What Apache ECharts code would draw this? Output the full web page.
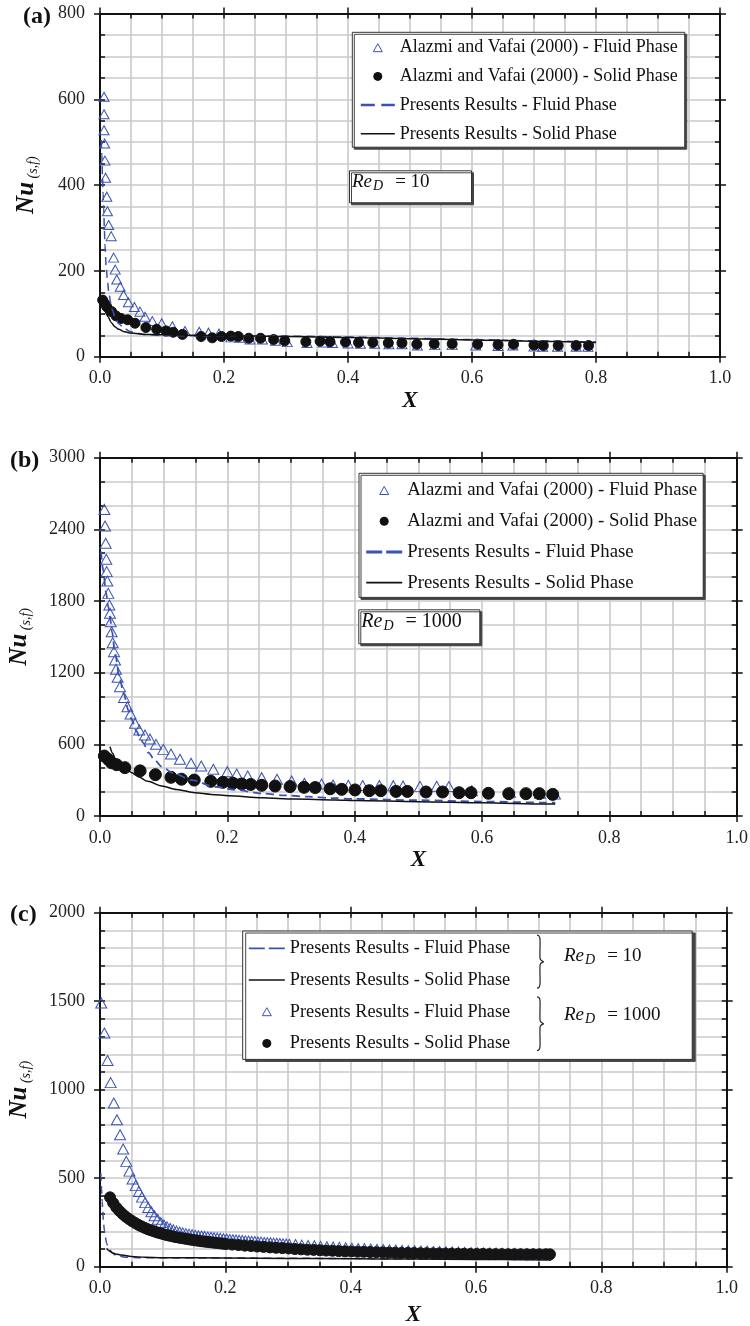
<!DOCTYPE html>
<html><head><meta charset="utf-8">
<script src="https://cdn.jsdelivr.net/npm/echarts@6/dist/echarts.min.js"></script>
<style>html,body{margin:0;padding:0;background:#fff}#c{width:750px;height:1326px}</style>
</head><body><div id="c"></div>
<script>
// ---------- Panel (a) ReD = 10 ----------
const aFluidAvX = [0.0065,0.0065,0.0065,0.0075,0.008,0.009,0.011,0.012,0.014,0.018,0.022,0.0245,0.027,0.0326,0.038,0.0457,0.0554,0.0645,0.0726,0.0844,0.0995,0.1167,0.137,0.16,0.175,0.192,
  0.211,0.225,0.242,0.262,0.283,0.302,0.334,0.36,0.375,0.4,0.42,0.443,0.466,0.487,0.512,0.54,0.568,0.606,0.642,0.666,0.7,0.714,0.738,0.768,0.787];
const aFluidAvY = [606,565,528,497,457,417,373,339,307,281,231,203,180,163,144,127,116,105,93,83,78,71,60,58,56,54,
  45,44,40,40,37,34,32,33,32,31,30,30,29,29,26,27,27,26,25,26,24,23,23,23,23];
const aSolidAvX = [0.0043,0.0075,0.011,0.0188,0.026,0.034,0.0446,0.0565,0.074,0.0914,0.1065,0.118,0.133,0.163,0.181,0.196,0.211,0.223,0.24,0.259,0.28,0.298,0.332,0.355,0.371,0.396,0.417,0.44,0.465,0.487,0.511,0.539,0.568,0.609,0.642,0.667,0.7,0.715,0.739,0.768,0.788];
const aSolidAvY = [132,124,116,105,95,89,86,78,68,64,60,57,52,47,44,47,48,47,43,43,40,37,35,36,35,34,33,33,32,32,29,30,30,29,28,29,27,26,26,26,26];
const aFluidPrX = [0.002,0.003,0.004,0.005,0.006,0.007,0.008,0.01,0.012,0.014,0.017,0.02,0.025,0.03,0.04,0.05,0.07,0.1,0.15,0.2,0.3,0.4,0.5,0.6,0.7,0.8];
const aFluidPrY = [505,470,420,380,345,300,260,210,178,152,127,108,90,77,65,58,52,49,49,49,48,46,43,40,37,34];
const aSolidPrX = [0.003,0.005,0.008,0.01,0.013,0.018,0.024,0.03,0.04,0.05,0.073,0.1,0.153,0.2,0.3,0.4,0.5,0.6,0.7,0.8];
const aSolidPrY = [135,125,108,100,93,80,70,64,58,55,52,51,50,49,47,45,42,39,36,33];

// ---------- Panel (b) ReD = 1000 ----------
const bFluidAvX = [0.0068,0.0079,0.0089,0.0099,0.0105,0.0115,0.013,0.0147,0.0157,0.0168,0.0183,0.0199,0.022,0.0236,0.0251,0.0277,0.0314,0.0377,0.043,0.048,0.055,0.0617,0.0706,0.0785,0.088,0.0995,0.1115,0.1256,0.143,0.159,0.178,0.2,0.2147,0.232,0.254,0.278,0.301,0.321,0.348,0.366,0.39,0.4126,0.4387,0.4607,0.476,0.5026,0.5288,0.548,0.584,0.644,0.691,0.7146];
const bFluidAvY = [2567,2428,2283,2149,2046,1967,1864,1767,1697,1627,1543,1451,1376,1306,1228,1161,1083,993,915,854,776,720,678,645,600,558,519,475,441,419,391,371,352,335,321,307,293,274,268,259,257,255,255,254,251,248,249,247,212,198,190,184];
const bSolidAvX = [0.0068,0.013,0.018,0.026,0.039,0.063,0.087,0.1115,0.128,0.148,0.174,0.193,0.2084,0.2226,0.2367,0.254,0.275,0.2985,0.3205,0.338,0.3615,0.3796,0.4005,0.423,0.441,0.465,0.4827,0.512,0.538,0.564,0.5827,0.61,0.642,0.669,0.69,0.711];
const bSolidAvY = [502,474,446,430,405,378,346,324,308,301,290,282,275,268,264,257,251,246,240,238,228,223,218,212,212,206,206,201,201,195,195,190,187,187,187,181];
const bFluidPrX = [0.0016,0.005,0.0094,0.013,0.0157,0.019,0.0236,0.03,0.037,0.045,0.05,0.057,0.063,0.068,0.076,0.0864,0.0968,0.115,0.144,0.18,0.214,0.253,0.29,0.327,0.364,0.4,0.5,0.6,0.7,0.715];
const bFluidPrY = [2213,2060,1870,1755,1660,1540,1362,1180,1027,880,804,712,655,610,530,465,413,360,301,245,218,190,173,162,150,143,132,121,112,111];
const bSolidPrX = [0.0157,0.02,0.0236,0.03,0.0393,0.05,0.0602,0.075,0.0969,0.12,0.149,0.175,0.202,0.254,0.306,0.37,0.4,0.5,0.6,0.7,0.715];
const bSolidPrY = [580,525,483,440,399,362,329,290,251,222,195,181,170,153,142,134,130,120,110,101,100];

// ---------- Panel (c) present results ----------
const cFluid10X = [0.0012,0.0016,0.0025,0.0035,0.0043,0.0055,0.0069,0.0085,0.0106,0.013,0.016,0.02,0.024,0.03,0.0425,0.06,0.1,0.2,0.3,0.4,0.5,0.6,0.72];
const cFluid10Y = [530,508,440,370,320,255,207,165,132,110,94,78,66,60,53,51,50,49,48,46,44,42,40];
const cSolid10X = [0.0106,0.013,0.016,0.02,0.025,0.0346,0.05,0.072,0.1,0.2,0.3,0.4,0.5,0.6,0.72];
const cSolid10Y = [104,95,86,78,72,66,58,53,51,49,47,45,43,41,38];
const cFluid1000X = [0.002,0.007,0.012,0.017,0.022,0.027,0.032,0.037,0.042,0.047,0.052,0.057,0.062,0.067,0.072,0.077,0.082,0.087,0.092,0.097,
  0.102,0.107,0.112,0.117,0.122,0.127,0.132,0.137,0.142,0.147,0.152,0.157,0.162,0.167,0.172,0.177,0.182,0.187,0.192,0.197,
  0.202,0.207,0.212,0.217,0.222,0.227,0.232,0.237,0.242,0.247,0.252,0.257,0.262,0.267,0.272,0.277,0.282,0.287,0.292,0.297,0.302,
  0.312,0.322,0.332,0.342,0.352,0.362,0.372,0.382,0.392,0.402,0.412,0.422,0.432,0.442,0.452,0.462,0.472,0.482,0.492,0.502,
  0.512,0.522,0.532,0.542,0.552,0.562,0.572,0.582,0.592,0.602,0.612,0.622,0.632,0.642,0.652,0.662,0.672,0.682,0.692,0.702,0.712];
const cFluid1000Y = [1490,1320,1165,1040,925,830,745,665,595,540,495,458,425,393,362,335,310,288,268,250,
  236,225,216,208,201,196,191,187,184,181,178,175,173,171,168,166,164,162,160,158,
  156,154,152,151,149,148,146,145,143,142,140,139,137,136,135,133,132,131,129,128,127,
  125,122,120,118,115,113,111,109,107,105,103,102,100,98,97,95,94,92,91,90,
  89,88,86,85,84,83,82,81,80,79,78,78,77,76,75,75,74,73,73,72,72];
const cSolid1000X = [0.016,0.021,0.026,0.031,0.036,0.041,0.046,0.051,0.056,0.061,0.066,0.071,0.076,0.081,0.086,0.091,0.096,0.101,0.106,0.111,
  0.116,0.121,0.126,0.131,0.136,0.141,0.146,0.151,0.156,0.161,0.166,0.171,0.176,0.181,0.186,0.191,0.196,0.201,
  0.211,0.221,0.231,0.241,0.251,0.261,0.271,0.281,0.291,0.301,0.311,0.321,0.331,0.341,0.351,0.361,0.371,0.381,0.391,0.401,
  0.411,0.421,0.431,0.441,0.451,0.461,0.471,0.481,0.491,0.501,0.511,0.521,0.531,0.541,0.551,0.561,0.571,0.581,0.591,0.601,
  0.611,0.621,0.631,0.641,0.651,0.661,0.671,0.681,0.691,0.701,0.711,0.718];
const cSolid1000Y = [392,360,335,315,298,283,270,258,247,237,228,220,212,206,200,194,189,184,179,175,
  171,167,164,161,158,155,152,149,147,144,142,140,138,136,134,132,130,128,
  125,122,119,117,114,112,109,107,105,103,100,98,96,95,93,91,90,88,87,86,
  85,84,83,82,81,80,79,78,78,77,76,76,75,75,74,74,73,73,72,72,
  72,71,71,71,70,70,70,70,70,70,70,70];

// ---------- text ----------
const LABELS = {
  a1:'Alazmi and Vafai (2000) - Fluid Phase', a2:'Alazmi and Vafai (2000) - Solid Phase',
  a3:'Presents Results - Fluid Phase', a4:'Presents Results - Solid Phase',
  b1:'Alazmi and Vafai (2000) - Fluid Phase', b2:'Alazmi and Vafai (2000) - Solid Phase',
  b3:'Presents Results - Fluid Phase', b4:'Presents Results - Solid Phase',
  c1:'Presents Results - Fluid Phase', c2:'Presents Results - Solid Phase',
  c3:'Presents Results - Fluid Phase', c4:'Presents Results - Solid Phase'
};
const panelTags = ['(a)','(b)','(c)'];
const reTexts = ['10','1000'];

const SERIF = 'Liberation Serif';
const BLUE = '#3a52b4';
const INK = '#111';
const GRIDC = '#cacaca';

const P = [
  {left:100, top:13.5, width:620, height:343.2, ymax:800, yint:200, ysplit:4, xGap:33, yGap:60},
  {left:100, top:457.7, width:636.7, height:358.3, ymax:3000, yint:600, ysplit:3, xGap:33, yGap:67},
  {left:100, top:912.7, width:626.7, height:354, ymax:2000, yint:500, ysplit:5, xGap:37, yGap:67}
];
const tickLS = {color:INK, width:1.5};
const axLine = {show:true, onZero:false, lineStyle:{color:INK, width:2}};

const grids=[], xAxes=[], yAxes=[];
P.forEach((p,i)=>{
  grids.push({left:p.left, top:p.top, width:p.width, height:p.height, outerBoundsMode:'none', containLabel:false});
  const xb = {type:'value', gridIndex:i, min:0, max:1, interval:0.2, splitLine:{show:false}, axisLabel:{show:false}, minorTick:{show:false, splitNumber:4}};
  xAxes.push(Object.assign({}, xb, {position:'bottom', axisLine:axLine,
    axisTick:{show:true, inside:false, length:6, lineStyle:tickLS},
    axisLabel:{show:true, margin:13, fontFamily:SERIF, fontSize:18, color:'#222', formatter:v=>v.toFixed(1)},
    splitLine:{show:true, lineStyle:{color:GRIDC, width:1.6}},
    minorSplitLine:{show:true, lineStyle:{color:GRIDC, width:1.6}},
    name:'X', nameLocation:'middle', nameGap:p.xGap,
    nameTextStyle:{fontFamily:SERIF, fontSize:23, fontWeight:'bold', fontStyle:'italic', color:INK}}));
  xAxes.push(Object.assign({}, xb, {position:'bottom', axisLine:{show:false, onZero:false},
    axisTick:{show:true, inside:true, length:5, lineStyle:tickLS},
    minorTick:{show:true, splitNumber:4, length:5, lineStyle:tickLS}}));
  xAxes.push(Object.assign({}, xb, {position:'top', axisLine:axLine,
    axisTick:{show:true, inside:false, length:6, lineStyle:tickLS}}));
  xAxes.push(Object.assign({}, xb, {position:'top', axisLine:{show:false, onZero:false},
    axisTick:{show:true, inside:true, length:5, lineStyle:tickLS},
    minorTick:{show:true, splitNumber:4, length:5, lineStyle:tickLS}}));

  const yb = {type:'value', gridIndex:i, min:0, max:p.ymax, interval:p.yint, splitLine:{show:false}, axisLabel:{show:false}, minorTick:{show:false, splitNumber:p.ysplit}};
  yAxes.push(Object.assign({}, yb, {position:'left', axisLine:axLine,
    axisTick:{show:true, inside:false, length:6, lineStyle:tickLS},
    axisLabel:{show:true, margin:15, fontFamily:SERIF, fontSize:18, color:'#222', formatter:v=>String(v)},
    splitLine:{show:true, lineStyle:{color:GRIDC, width:1.6}},
    minorSplitLine:{show:true, lineStyle:{color:GRIDC, width:1.6}},
    name:'{nu|Nu}{sub| (s,f)}', nameLocation:'middle', nameGap:p.yGap, nameRotate:90,
    nameTextStyle:{color:INK, rich:{
      nu:{fontFamily:SERIF, fontSize:25, fontWeight:'bold', fontStyle:'italic', color:INK, lineHeight:26},
      sub:{fontFamily:SERIF, fontSize:14, fontWeight:'normal', fontStyle:'italic', color:INK, verticalAlign:'bottom', padding:[6,0,0,0]}}}}));
  yAxes.push(Object.assign({}, yb, {position:'left', axisLine:{show:false, onZero:false},
    axisTick:{show:true, inside:true, length:5, lineStyle:tickLS},
    minorTick:{show:true, splitNumber:p.ysplit, length:5, lineStyle:tickLS}}));
  yAxes.push(Object.assign({}, yb, {position:'right', axisLine:axLine,
    axisTick:{show:true, inside:false, length:6, lineStyle:tickLS}}));
  yAxes.push(Object.assign({}, yb, {position:'right', axisLine:{show:false, onZero:false},
    axisTick:{show:true, inside:true, length:5, lineStyle:tickLS},
    minorTick:{show:true, splitNumber:p.ysplit, length:5, lineStyle:tickLS}}));
});

function zip(xs, ys){ return xs.map((x,k)=>[x, ys[k]]); }
function scat(name, p, xs, ys, sym, size, fill, stroke, z){
  return {name, type:'scatter', xAxisIndex:4*p, yAxisIndex:4*p, data:zip(xs,ys), symbol:sym, symbolSize:size,
    itemStyle:{color:fill, borderColor:stroke, borderWidth:1, opacity:1}, z:z, silent:true, animation:false, emphasis:{disabled:true}};
}
function line(name, p, xs, ys, dash, color, width, z){
  return {name, type:'line', xAxisIndex:4*p, yAxisIndex:4*p, data:zip(xs,ys), showSymbol:false, symbol:'none',
    smooth:0.3, smoothMonotone:'x', lineStyle:{color, width, type:dash}, itemStyle:{color}, z:z, silent:true, animation:false, emphasis:{disabled:true}};
}
const HOLLOW = 'rgba(255,255,255,0)';
const DASH = [8,5];
const series = [
  scat('a1',0,aFluidAvX,aFluidAvY,'triangle',[10,9],HOLLOW,BLUE,2),
  scat('a2',0,aSolidAvX,aSolidAvY,'circle',10,INK,INK,3),
  line('a3',0,aFluidPrX,aFluidPrY,DASH,BLUE,1.5,4),
  line('a4',0,aSolidPrX,aSolidPrY,'solid',INK,1.5,4),
  scat('b1',1,bFluidAvX,bFluidAvY,'triangle',[11,10],HOLLOW,BLUE,2),
  scat('b2',1,bSolidAvX,bSolidAvY,'circle',12,INK,INK,3),
  line('b3',1,bFluidPrX,bFluidPrY,DASH,BLUE,1.8,4),
  line('b4',1,bSolidPrX,bSolidPrY,'solid',INK,1.5,4),
  line('c1',2,cFluid10X,cFluid10Y,DASH,BLUE,1.5,2),
  line('c2',2,cSolid10X,cSolid10Y,'solid',INK,1.5,2),
  scat('c3',2,cFluid1000X,cFluid1000Y,'triangle',[11,10],HOLLOW,BLUE,3),
  scat('c4',2,cSolid1000X,cSolid1000Y,'circle',11,'#151515','#151515',4)
];

// legend icons, each drawn in a box the size of the legend item so nothing is stretched
function triIcon(w){ const c=w/2; return 'path://M0,0 M'+w+',9 M'+c+',0.5 L'+(c+4.5)+',8.5 L'+(c-4.5)+',8.5 Z'; }
function dashIcon(w, d, g, t){ const y=(9-t)/2; return 'path://M0,0 M'+w+',9 M0,'+y+'h'+d+'v'+t+'h-'+d+'z M'+(d+g)+','+y+'h'+(w-d-g)+'v'+t+'h-'+(w-d-g)+'z'; }
function solidIcon(w, t){ const y=(9-t)/2; return 'path://M0,0 M'+w+',9 M0,'+y+'h'+w+'v'+t+'h-'+w+'z'; }
function legendItems(names, w, dashD, dashG, dashT){
  return [
    {name:names[0], icon:triIcon(w), itemStyle:{color:HOLLOW, borderColor:BLUE, borderWidth:1}},
    {name:names[1], icon:'circle', itemStyle:{color:INK, borderWidth:0}},
    {name:names[2], icon:dashIcon(w,dashD,dashG,dashT), itemStyle:{color:BLUE, borderWidth:0}},
    {name:names[3], icon:solidIcon(w,1.6), itemStyle:{color:INK, borderWidth:0}}
  ];
}
function legend(items, left, top, pad, fs, gap, iw, shX){
  return {data:items, orient:'vertical', left, top, padding:pad, itemGap:gap, itemWidth:iw, itemHeight:9,
    symbolKeepAspect:true,
    backgroundColor:'#fff', borderColor:'#333', borderWidth:1, borderRadius:0,
    shadowColor:'#444', shadowBlur:0, shadowOffsetX:shX, shadowOffsetY:2,
    selectedMode:false, formatter:n=>LABELS[n],
    textStyle:{fontFamily:SERIF, fontSize:fs, color:INK, lineHeight:18}};
}
const cItems = legendItems(['c3','c4','c1','c2'], 36, 16, 4, 1.8);
const legends = [
  legend(legendItems(['a1','a2','a3','a4'], 34, 14, 6.5, 2.5), 352.3, 32.3, [6.4,7,4.4,8], 18, 10.7, 34, 2),
  legend(legendItems(['b1','b2','b3','b4'], 36, 16, 4, 3), 359, 473.3, [7.7,6,5.3,6.7], 18.8, 11.7, 36, 2),
  legend([cItems[2], cItems[3], cItems[0], cItems[1]], 242.7, 931, [8.3,182,7,5.6], 18.3, 13.7, 36, 3)
];

function reRich(fs){
  return {
    re:{fontFamily:SERIF, fontSize:fs, fontWeight:'normal', fontStyle:'italic', color:INK, lineHeight:fs+3},
    d:{fontFamily:SERIF, fontSize:Math.round(fs*0.72), fontWeight:'normal', fontStyle:'italic', color:INK, verticalAlign:'bottom', padding:[5,0,0,1]},
    eq:{fontFamily:SERIF, fontSize:fs, fontWeight:'normal', color:INK, padding:[0,0,0,12], lineHeight:fs+3}
  };
}
const titles = [
  {left:349, top:169.3, text:'{re|Re}{d|D}{eq|= '+reTexts[0]+'}', padding:[2,42,10,3],
   backgroundColor:'#fff', borderColor:'#333', borderWidth:1, shadowColor:'#444', shadowBlur:0, shadowOffsetX:2, shadowOffsetY:2,
   textStyle:{fontWeight:'normal', rich:reRich(19)}},
  {left:358.3, top:608.3, text:'{re|Re}{d|D}{eq|= '+reTexts[1]+'}', padding:[2,18,11,3],
   backgroundColor:'#fff', borderColor:'#333', borderWidth:1, shadowColor:'#444', shadowBlur:0, shadowOffsetX:2, shadowOffsetY:2,
   textStyle:{fontWeight:'normal', rich:reRich(20)}},
  {left:564, top:945, text:'{re|Re}{d|D}{eq|= '+reTexts[0]+'}', padding:0, textStyle:{fontWeight:'normal', rich:reRich(19)}},
  {left:564, top:1004, text:'{re|Re}{d|D}{eq|= '+reTexts[1]+'}', padding:0, textStyle:{fontWeight:'normal', rich:reRich(19)}}
];

function bracePts(x0, y0, y1){
  const ym = (y0+y1)/2;
  return [[x0,y0],[x0+2,y0+1],[x0+3,y0+4],[x0+3,ym-4],[x0+4,ym-1.5],[x0+6.5,ym],[x0+4,ym+1.5],[x0+3,ym+4],[x0+3,y1-4],[x0+2,y1-1],[x0,y1]];
}
const graphics = [
  {type:'text', x:23, y:5, z:10, style:{text:panelTags[0], font:'bold 24px "Liberation Serif"', fill:INK}},
  {type:'text', x:10, y:449, z:10, style:{text:panelTags[1], font:'bold 24px "Liberation Serif"', fill:INK}},
  {type:'text', x:10, y:903, z:10, style:{text:panelTags[2], font:'bold 24px "Liberation Serif"', fill:INK}},
  {type:'polyline', z:10, shape:{points:bracePts(537,935,988.3), smooth:0.3}, style:{fill:null, stroke:'#222', lineWidth:1.2}},
  {type:'polyline', z:10, shape:{points:bracePts(537,996.7,1050.7), smooth:0.3}, style:{fill:null, stroke:'#222', lineWidth:1.2}}
];

const chart = echarts.init(document.getElementById('c'), null, {renderer:'canvas'});
chart.setOption({
  animation:false, backgroundColor:'#fff',
  grid:grids, xAxis:xAxes, yAxis:yAxes, series, legend:legends, title:titles, graphic:{elements:graphics},
  tooltip:{show:false}
});
</script></body></html>
